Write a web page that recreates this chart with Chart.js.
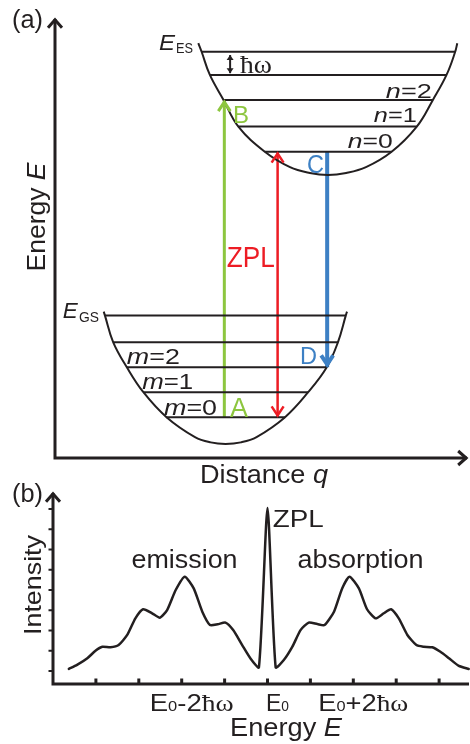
<!DOCTYPE html>
<html><head><meta charset="utf-8">
<script src="https://cdn.jsdelivr.net/npm/chart.js@4.4.1/dist/chart.umd.min.js"></script>
<style>
html,body{margin:0;padding:0;background:#fff;}
#wrap{position:relative;width:470px;height:744px;overflow:hidden;background:#fff;}
canvas{position:absolute;left:0;top:0;}
</style></head><body>
<div id="wrap"><canvas id="ca" width="470" height="744"></canvas><canvas id="cb" width="470" height="744"></canvas></div>
<script>
// ================= DATA : panel (a) configuration-coordinate diagram =================
// q = configuration coordinate (distance), E = energy in units of the phonon quantum
const gsCurveQ = [1.18,1.21,1.41,1.74,2.14,2.70,3.39,3.77,4.13,4.50,4.88,5.57,6.13,6.58,6.85,7.04,7.07];
const gsCurveE = [5.81,5.65,4.59,3.60,2.61,1.62,0.83,0.62,0.56,0.62,0.83,1.62,2.61,3.60,4.59,5.65,5.81];
const esCurveQ = [3.47,3.55,3.75,4.08,4.44,5.08,5.69,6.17,6.61,7.05,7.53,8.15,8.76,9.15,9.48,9.69,9.74];
const esCurveE = [16.46,16.12,15.20,14.21,13.15,12.15,11.54,11.31,11.23,11.31,11.54,12.15,13.15,14.21,15.20,16.12,16.46];

const gsLevelNames  = ['m=0','m=1','m=2','m=3','m=4'];
const gsLevelE      = [1.62,2.61,3.60,4.59,5.65];
const gsLevelQLeft  = [2.70,2.14,1.74,1.41,1.21];
const gsLevelQRight = [5.57,6.13,6.58,6.85,7.04];

const esLevelNames  = ['n=0','n=1','n=2','n=3','n=4'];
const esLevelE      = [12.15,13.15,14.21,15.20,16.12];
const esLevelQLeft  = [5.08,4.44,4.08,3.75,3.55];
const esLevelQRight = [8.15,8.76,9.15,9.48,9.69];

const transitionNames = ['A→B absorption','ZPL','C→D emission'];
const transitionQ     = [4.10,5.39,6.59];
const transitionFromE = [1.62,12.15,12.15];
const transitionToE   = [14.21,1.62,3.60];
const transitionHeads = ['end','both','end'];

const phononQ = 4.24;
const phononE = [15.27,15.99];

// ================= DATA : panel (b) spectrum =================
// x in units of ħω relative to E0, intensity in tick units
const spectrumE = [-4.63,-4.44,-4.20,-4.01,-3.85,-3.66,-3.47,-3.27,-3.08,-2.90,-2.69,-2.51,-2.34,-2.14,-1.93,-1.72,-1.52,-1.34,-1.16,-0.98,-0.80,-0.59,-0.40,-0.20,0.00,0.19,0.38,0.58,0.77,0.96,1.16,1.33,1.55,1.74,1.91,2.13,2.32,2.52,2.71,2.88,3.06,3.26,3.47,3.64,3.84,4.03,4.23,4.46,4.69];
const spectrumI = [0.10,0.30,0.63,1.00,1.20,1.17,1.28,1.78,2.60,3.05,2.85,2.63,3.01,4.00,4.66,4.08,2.93,2.27,2.31,2.39,2.02,1.28,0.63,0.18,8.05,0.18,0.54,1.20,2.02,2.39,2.32,2.27,2.93,4.08,4.66,4.08,3.05,2.60,2.85,3.05,2.60,1.78,1.28,1.20,1.17,0.95,0.63,0.25,0.10];
const xTickValues  = [-4,-3,-2,-1,0,1,2,3,4];
const xLabelValues = [-2,0,2];
const xLabelTexts  = ['E₀-2ħω','E₀','E₀+2ħω'];
const yTickValues  = [0,1,2,3,4,5,6,7,8];

// ================= STYLE =================
const BLACK = '#231f20';
const transitionColors = ['#8dc63f','#ed1c24','#3d80c4'];
const transitionWidths = [3,2.5,4];
const SANS = '"Liberation Sans", Arial, Helvetica, sans-serif';
const SERIF = '"Liberation Serif", "Times New Roman", serif';

function segFont(s,size){
  const sz = s.sub ? size*0.6 : size;
  return (s.italic?'italic ':'') + sz.toFixed(2) + 'px ' + (s.serif?SERIF:SANS);
}
function drawRich(ctx, segs, x, y, size, width, color, opts){
  opts = opts || {};
  ctx.save();
  let total = 0; const ws = [];
  for (const s of segs){ ctx.font = segFont(s,size); const w = ctx.measureText(s.t).width; ws.push(w); total += w; }
  const sx = width ? width/total : 1;
  ctx.translate(x,y);
  if (opts.rotate) ctx.rotate(opts.rotate);
  ctx.scale(sx,1);
  let cx = opts.align==='center' ? -total/2 : 0;
  ctx.fillStyle = color; ctx.textBaseline = 'alphabetic'; ctx.textAlign = 'left';
  segs.forEach((s,i)=>{ ctx.font = segFont(s,size); ctx.fillText(s.t, cx, 0); cx += ws[i]; });
  ctx.restore();
}
function richSegs(str){
  const out=[];
  for (const ch of str){
    let s;
    if (ch==='₀') s={t:'0',sub:true};
    else if (ch==='ħ'||ch==='ω') s={t:ch,serif:true};
    else s={t:ch};
    const last = out[out.length-1];
    if (last && !!last.sub===!!s.sub && !!last.serif===!!s.serif) last.t += s.t; else out.push(s);
  }
  return out;
}
function chevron(ctx, tx, ty, ux, uy, len, half, lw, color, filled){
  const nx=-uy, ny=ux;
  ctx.save();
  if (!filled){ const back = (lw/2)/Math.sin(Math.atan2(half,len)); tx -= ux*back*0.8; ty -= uy*back*0.8; }
  const bx = tx-ux*len, by = ty-uy*len;
  ctx.beginPath();
  ctx.moveTo(bx+nx*half, by+ny*half);
  ctx.lineTo(tx,ty);
  ctx.lineTo(bx-nx*half, by-ny*half);
  if (filled){ ctx.closePath(); ctx.fillStyle=color; ctx.fill(); }
  else { ctx.strokeStyle=color; ctx.lineWidth=lw; ctx.lineJoin='miter'; ctx.lineCap='butt'; ctx.stroke(); }
  ctx.restore();
}
function drawAxes(ctx, ca, rightArrow){
  ctx.save();
  ctx.strokeStyle=BLACK; ctx.lineWidth=3; ctx.lineJoin='miter'; ctx.lineCap='butt';
  ctx.beginPath();
  ctx.moveTo(ca.left, ca.top+1); ctx.lineTo(ca.left, ca.bottom); ctx.lineTo(ca.right-1, ca.bottom);
  ctx.stroke();
  ctx.restore();
  chevron(ctx, ca.left, ca.top, 0,-1, 8, 7, 3, BLACK);
  if (rightArrow) chevron(ctx, ca.right, ca.bottom, 1,0, 8, 7, 3, BLACK);
}
function arrowHeads(chart){
  const ctx = chart.ctx;
  chart.data.datasets.forEach((ds,i)=>{
    if (!ds.heads) return;
    const m = chart.getDatasetMeta(i).data;
    const p0=m[0], p1=m[m.length-1];
    const dx=p1.x-p0.x, dy=p1.y-p0.y, L=Math.hypot(dx,dy), ux=dx/L, uy=dy/L;
    const h = ds.headStyle;
    chevron(ctx,p1.x,p1.y,ux,uy,h.len,h.half,ds.borderWidth,ds.borderColor,h.filled);
    if (ds.heads==='both') chevron(ctx,p0.x,p0.y,-ux,-uy,h.len,h.half,ds.borderWidth,ds.borderColor,h.filled);
  });
}

// ----- text annotations for panel (a) (anchored in data coordinates) -----
const labelsA = [
  {segs:[{t:'E',italic:true}], q:2.52, e:16.19, size:22, w:16, c:BLACK},
  {segs:[{t:'ES'}], q:2.93, e:16.07, size:14, w:17, c:BLACK},
  {segs:[{t:'E',italic:true}], q:0.19, e:5.56, size:22, w:15, c:BLACK},
  {segs:[{t:'GS'}], q:0.58, e:5.40, size:14, w:20, c:BLACK},
  {segs:[{t:'n',italic:true},{t:'=2'}], q:8.01, e:14.29, size:21, w:46, c:BLACK},
  {segs:[{t:'n',italic:true},{t:'=1'}], q:7.72, e:13.33, size:21, w:43, c:BLACK},
  {segs:[{t:'n',italic:true},{t:'=0'}], q:7.09, e:12.30, size:21, w:45, c:BLACK},
  {segs:[{t:'m',italic:true},{t:'=2'}], q:1.74, e:3.73, size:22, w:53, c:BLACK},
  {segs:[{t:'m',italic:true},{t:'=1'}], q:2.11, e:2.74, size:22, w:51, c:BLACK},
  {segs:[{t:'m',italic:true},{t:'=0'}], q:2.64, e:1.71, size:22, w:53, c:BLACK},
  {segs:[{t:'A'}], q:4.24, e:1.63, size:27, w:18, c:transitionColors[0]},
  {segs:[{t:'B'}], q:4.31, e:13.29, size:24, w:16, c:transitionColors[0]},
  {segs:[{t:'C'}], q:6.10, e:11.31, size:25, w:17, c:transitionColors[2]},
  {segs:[{t:'D'}], q:5.93, e:3.73, size:24, w:17, c:transitionColors[2]},
  {segs:[{t:'ZPL'}], q:4.16, e:7.58, size:30, w:48, c:transitionColors[1]},
  {segs:[{t:'ħω',serif:true}], q:4.48, e:15.28, size:26, w:32, c:BLACK}
];

const decorA = {
  id:'decorA',
  afterDatasetsDraw(chart){
    const {ctx, chartArea:ca, scales:{x,y}} = chart;
    arrowHeads(chart);
    drawAxes(ctx, ca, true);
    labelsA.forEach(l=> drawRich(ctx, l.segs, x.getPixelForValue(l.q), y.getPixelForValue(l.e), l.size, l.w, l.c));
    drawRich(ctx, [{t:'(a)'}], 12, 28, 26, 31, BLACK);
    drawRich(ctx, [{t:'Energy '},{t:'E',italic:true}], ca.left-10, (ca.top+ca.bottom)/2-21, 25, 109, BLACK, {rotate:-Math.PI/2, align:'center'});
    drawRich(ctx, [{t:'Distance '},{t:'q',italic:true}], 200, ca.bottom+25, 25, 128, BLACK);
  }
};

const dsA = [];
dsA.push({label:'ground state', data:gsCurveQ.map((q,i)=>({x:q,y:gsCurveE[i]})), borderColor:BLACK, borderWidth:2, tension:0.4, showLine:true, pointRadius:0});
dsA.push({label:'excited state', data:esCurveQ.map((q,i)=>({x:q,y:esCurveE[i]})), borderColor:BLACK, borderWidth:2, tension:0.4, showLine:true, pointRadius:0});
gsLevelE.forEach((e,i)=> dsA.push({label:gsLevelNames[i], data:[{x:gsLevelQLeft[i],y:e},{x:gsLevelQRight[i],y:e}], borderColor:BLACK, borderWidth:2, showLine:true, pointRadius:0}));
esLevelE.forEach((e,i)=> dsA.push({label:esLevelNames[i], data:[{x:esLevelQLeft[i],y:e},{x:esLevelQRight[i],y:e}], borderColor:BLACK, borderWidth:2, showLine:true, pointRadius:0}));
dsA.push({label:'ħω', data:[{x:phononQ,y:phononE[0]},{x:phononQ,y:phononE[1]}], borderColor:BLACK, borderWidth:2, showLine:true, pointRadius:0, heads:'both', headStyle:{len:5,half:3.5,filled:true}});
transitionNames.forEach((n,i)=> dsA.push({label:n, data:[{x:transitionQ[i],y:transitionFromE[i]},{x:transitionQ[i],y:transitionToE[i]}], borderColor:transitionColors[i], borderWidth:transitionWidths[i], showLine:true, pointRadius:0, heads:transitionHeads[i], headStyle:{len:9,half:6,filled:false}}));

new Chart(document.getElementById('ca'), {
  type:'scatter',
  data:{datasets:dsA},
  options:{
    responsive:false, animation:false, devicePixelRatio:1,
    layout:{padding:{left:55,right:2,top:18,bottom:286}},
    plugins:{legend:{display:false}, tooltip:{enabled:false}},
    scales:{ x:{type:'linear',min:0,max:10,display:false}, y:{type:'linear',min:0,max:17.46,display:false} },
    elements:{point:{radius:0}}
  },
  plugins:[decorA]
});

// ----- panel (b) -----
const labelsB = [
  {segs:[{t:'emission'}], x:-3.17, i:5.09, size:26, w:106},
  {segs:[{t:'absorption'}], x:0.70, i:5.09, size:26, w:126},
  {segs:[{t:'ZPL'}], x:0.12, i:7.11, size:24, w:51}
];
const tickLabelWidths = [84,23,90];

const decorB = {
  id:'decorB',
  afterDatasetsDraw(chart){
    const {ctx, chartArea:ca, scales:{x,y}} = chart;
    drawAxes(ctx, ca, false);
    ctx.save(); ctx.strokeStyle=BLACK;
    ctx.lineWidth=2;
    yTickValues.forEach(v=>{ const py=y.getPixelForValue(v); ctx.beginPath(); ctx.moveTo(ca.left-4.5,py); ctx.lineTo(ca.left,py); ctx.stroke(); });
    ctx.lineWidth=3;
    xTickValues.forEach(v=>{ const px=x.getPixelForValue(v); ctx.beginPath(); ctx.moveTo(px,ca.bottom); ctx.lineTo(px,ca.bottom-5.5); ctx.stroke(); });
    ctx.restore();
    xLabelValues.forEach((v,k)=> drawRich(ctx, richSegs(xLabelTexts[k]), x.getPixelForValue(v)+10, ca.bottom+27, 24, tickLabelWidths[k], BLACK, {align:'center'}));
    labelsB.forEach(l=> drawRich(ctx, l.segs, x.getPixelForValue(l.x), y.getPixelForValue(l.i), l.size, l.w, BLACK));
    drawRich(ctx, [{t:'(b)'}], 12, ca.top+10, 25, 31, BLACK);
    drawRich(ctx, [{t:'Intensity'}], 40.5, (ca.top+ca.bottom)/2-3, 24, 100, BLACK, {rotate:-Math.PI/2, align:'center'});
    drawRich(ctx, [{t:'Energy '},{t:'E',italic:true}], 230, ca.bottom+52, 25, 112, BLACK);
  }
};

new Chart(document.getElementById('cb'), {
  type:'scatter',
  data:{datasets:[{label:'spectrum', data:spectrumE.map((e,i)=>({x:e,y:spectrumI[i]})), borderColor:BLACK, borderWidth:2.5, tension:0.2, showLine:true, pointRadius:0, borderJoinStyle:'round', borderCapStyle:'round'}]},
  options:{
    responsive:false, animation:false, devicePixelRatio:1,
    layout:{padding:{left:53,right:0,top:492,bottom:60}},
    plugins:{legend:{display:false}, tooltip:{enabled:false}},
    scales:{ x:{type:'linear',min:-5,max:4.72,display:false}, y:{type:'linear',min:-0.642,max:8.84,display:false} },
    elements:{point:{radius:0}}
  },
  plugins:[decorB]
});
</script>
</body></html>
